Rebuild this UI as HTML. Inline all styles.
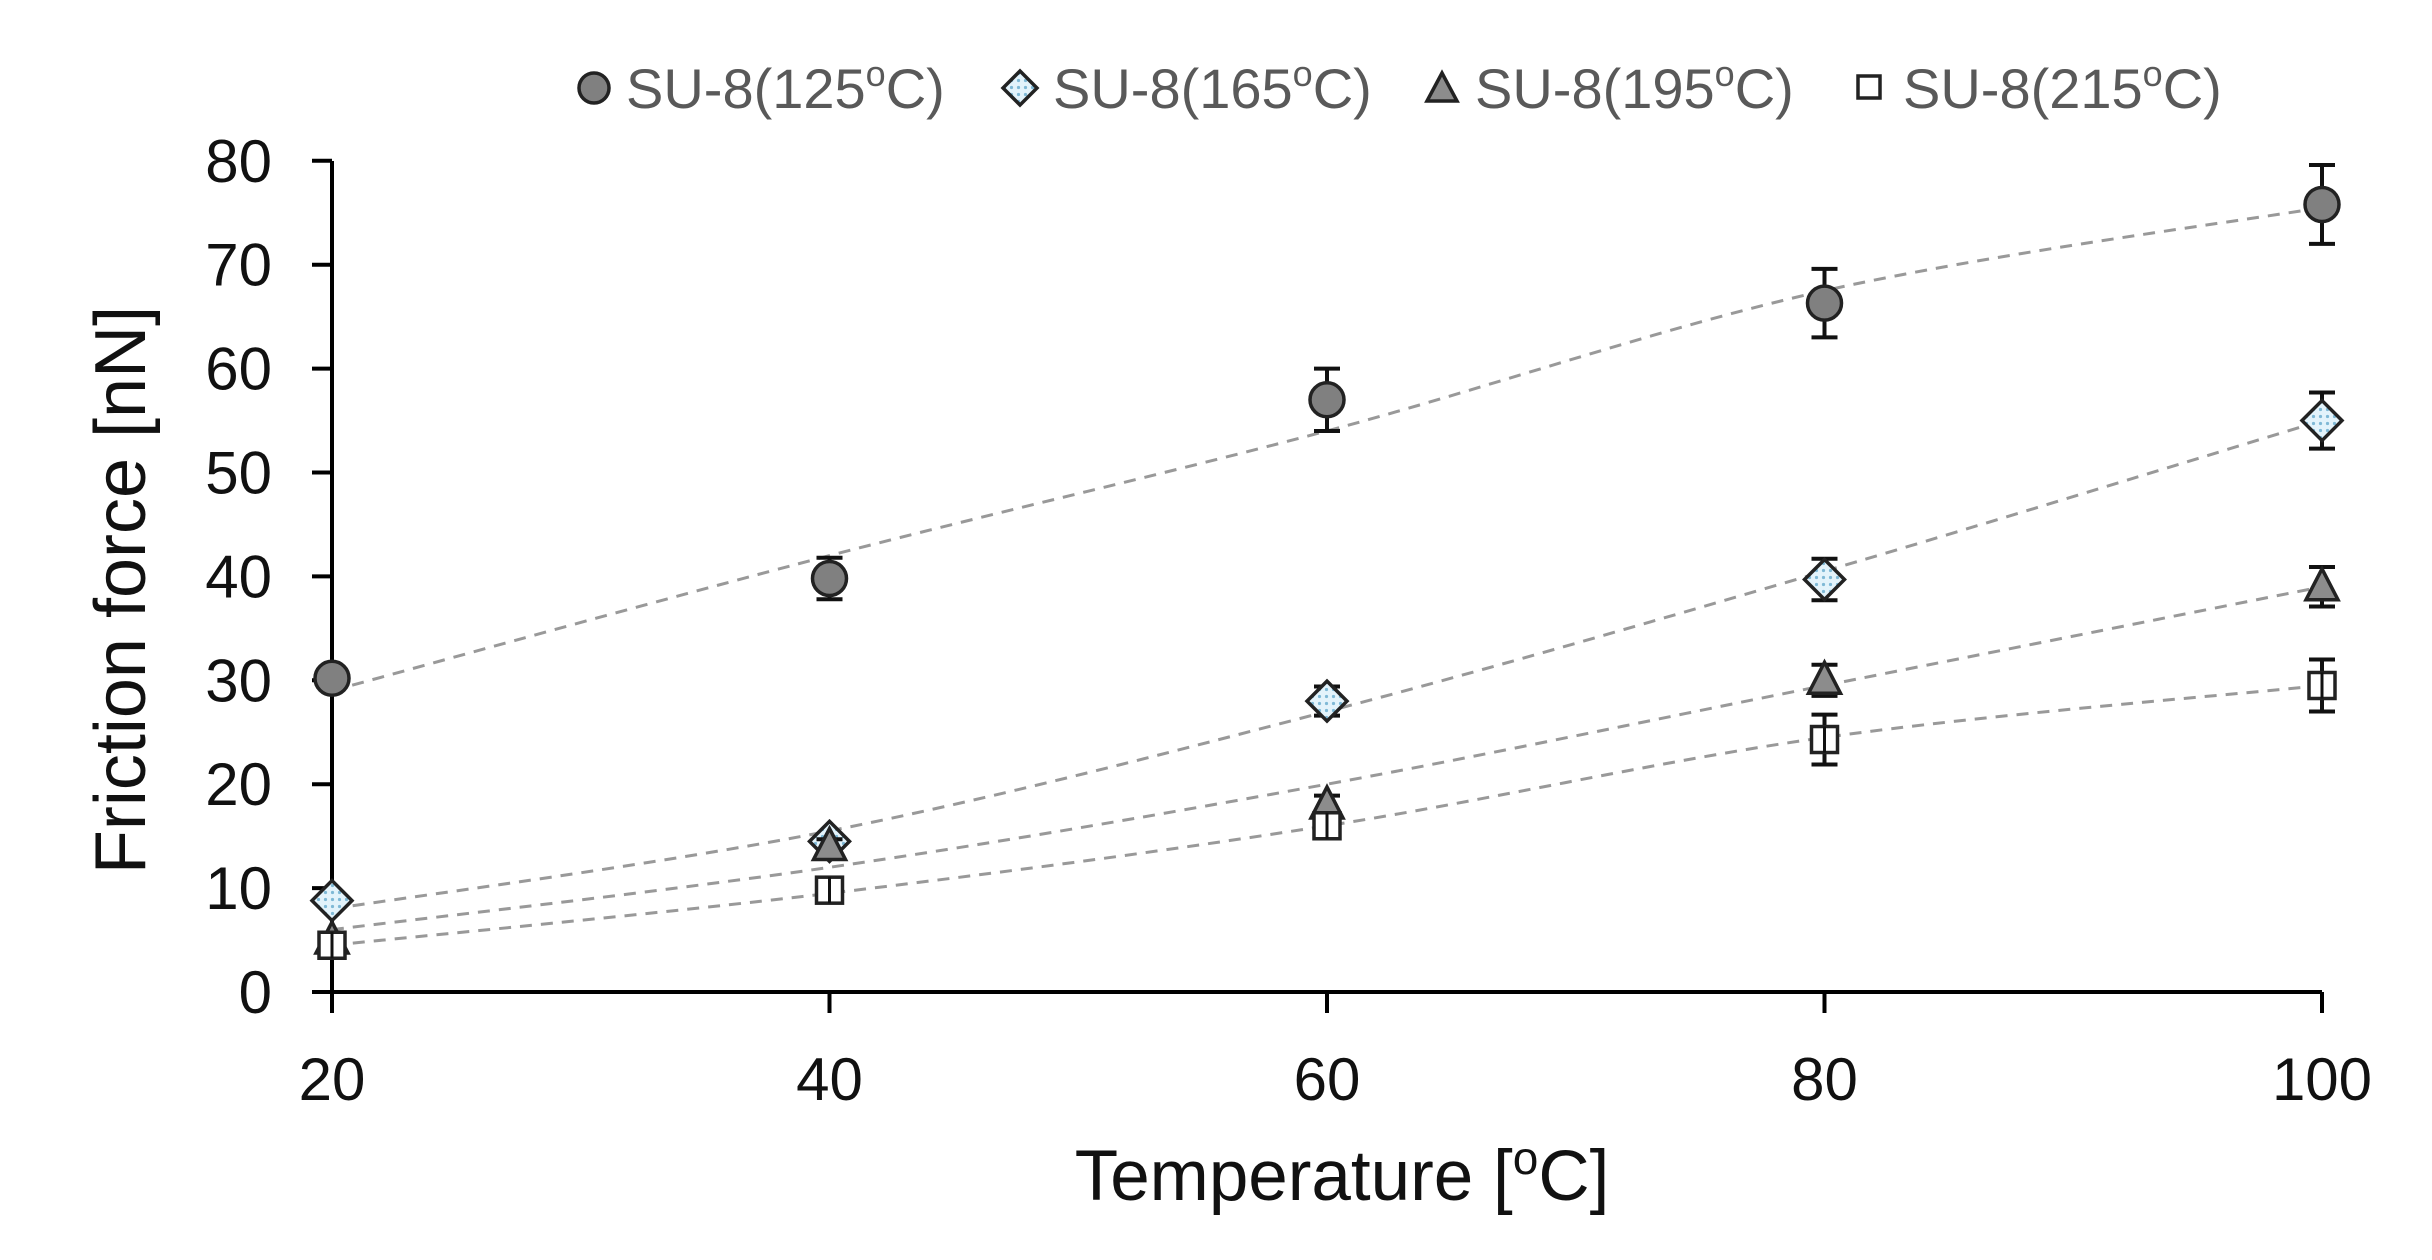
<!DOCTYPE html>
<html><head><style>html,body{margin:0;padding:0;background:#fff}svg{display:block}</style></head>
<body>
<svg id="s" width="2432" height="1260" xmlns="http://www.w3.org/2000/svg" font-family="Liberation Sans, sans-serif">
<defs>
<pattern id="dots" width="7" height="7" patternUnits="userSpaceOnUse"><rect width="7" height="7" fill="#e3f3fb"/><circle cx="3.5" cy="3.5" r="1.6" fill="#7fb9d6"/></pattern>
</defs>
<g id="plot"></g>
<g font-size="56" fill="#595959">
<circle cx="594" cy="88" r="15" fill="#808080" stroke="#222" stroke-width="3.5"/>
<text x="626" y="108">SU-8(125<tspan dy="-22" font-size="36">o</tspan><tspan dy="22">C)</tspan></text>
<path d="M1020 71 L1037 88 L1020 105 L1003 88Z" fill="url(#dots)" stroke="#222" stroke-width="3.5"/>
<text x="1053" y="108">SU-8(165<tspan dy="-22" font-size="36">o</tspan><tspan dy="22">C)</tspan></text>
<path d="M1442 73 L1457 101 L1427 101Z" fill="#8c8c8c" stroke="#222" stroke-width="3.5"/>
<text x="1475" y="108">SU-8(195<tspan dy="-22" font-size="36">o</tspan><tspan dy="22">C)</tspan></text>
<rect x="1858" y="76" width="22" height="22" fill="#fff" stroke="#222" stroke-width="3.5"/>
<text x="1903" y="108">SU-8(215<tspan dy="-22" font-size="36">o</tspan><tspan dy="22">C)</tspan></text>
</g>
<text x="1342" y="1200" font-size="71" text-anchor="middle" fill="#111">Temperature [<tspan dy="-26" font-size="46">o</tspan><tspan dy="26">C]</tspan></text>
<text transform="translate(145,590) rotate(-90)" font-size="72" text-anchor="middle" fill="#111">Friction force [nN]</text>
</svg>
<script>
const g=document.getElementById('plot');
const X=v=>332+(v-20)*(1990/80), Y=v=>992-v*10.39;
let h='';
h+=`<line x1="332" y1="161" x2="332" y2="992" stroke="#000" stroke-width="4"/>`;
h+=`<line x1="312" y1="992" x2="2322" y2="992" stroke="#000" stroke-width="4"/>`;
for(let i=0;i<=8;i++){const y=Y(i*10);h+=`<line x1="312" y1="${y}" x2="332" y2="${y}" stroke="#000" stroke-width="4"/>`;
h+=`<text x="272" y="${y+21}" font-size="60" text-anchor="end" fill="#111">${i*10}</text>`;}
for(let v=20;v<=100;v+=20){const x=X(v);h+=`<line x1="${x}" y1="992" x2="${x}" y2="1013" stroke="#000" stroke-width="4"/>`;
h+=`<text x="${x}" y="1100" font-size="60" text-anchor="middle" fill="#111">${v}</text>`;}
const xs=[20,40,60,80,100];
const trends=[[29,42,54,67.5,75.5],[8,15.5,27,40.5,55],[6,12,20,29.5,39],[4.5,9.5,16,24.5,29.5]];
function smooth(vals){const p=xs.map((x,i)=>[X(x),Y(vals[i])]);let d=`M${p[0][0]} ${p[0][1]}`;
for(let i=0;i<p.length-1;i++){const p0=p[Math.max(0,i-1)],p1=p[i],p2=p[i+1],p3=p[Math.min(p.length-1,i+2)];
const c1=[p1[0]+(p2[0]-p0[0])/6,p1[1]+(p2[1]-p0[1])/6],c2=[p2[0]-(p3[0]-p1[0])/6,p2[1]-(p3[1]-p1[1])/6];
d+=` C${c1[0]} ${c1[1]} ${c2[0]} ${c2[1]} ${p2[0]} ${p2[1]}`;}return d;}
trends.forEach(t=>h+=`<path d="${smooth(t)}" fill="none" stroke="#999" stroke-width="3" stroke-dasharray="12 9"/>`);
const data=[
 [[30.2,1],[39.8,2],[57,3],[66.3,3.3],[75.8,3.8]],
 [[8.8,0.5],[14.5,0.7],[28,1.4],[39.7,2],[55,2.7]],
 [[5,0.3],[14,0.7],[18,0.9],[30,1.5],[39,1.9]],
 [[4.5,0.3],[9.8,0.5],[16,0.8],[24.3,2.4],[29.5,2.5]]];
data.forEach((s,k)=>s.forEach((pt,i)=>{const x=X(xs[i]),y=Y(pt[0]),e=pt[1]*10.39;
h+=`<g stroke="#111" stroke-width="4"><line x1="${x}" y1="${y-e}" x2="${x}" y2="${y+e}"/><line x1="${x-13}" y1="${y-e}" x2="${x+13}" y2="${y-e}"/><line x1="${x-13}" y1="${y+e}" x2="${x+13}" y2="${y+e}"/></g>`;
if(k==0)h+=`<circle cx="${x}" cy="${y}" r="17" fill="#808080" stroke="#222" stroke-width="3.5"/>`;
if(k==1)h+=`<path d="M${x} ${y-20} L${x+20} ${y} L${x} ${y+20} L${x-20} ${y}Z" fill="url(#dots)" stroke="#222" stroke-width="3.5"/>`;
if(k==2)h+=`<path d="M${x} ${y-18} L${x+16} ${y+13} L${x-16} ${y+13}Z" fill="#8c8c8c" stroke="#222" stroke-width="3.5"/>`;
if(k==3)h+=`<rect x="${x-13}" y="${y-13}" width="26" height="26" fill="#fff" stroke="#222" stroke-width="3.5"/><line x1="${x}" y1="${y-13}" x2="${x}" y2="${y+13}" stroke="#111" stroke-width="3"/>`;
}));
g.innerHTML=h;
</script>
</body></html>
